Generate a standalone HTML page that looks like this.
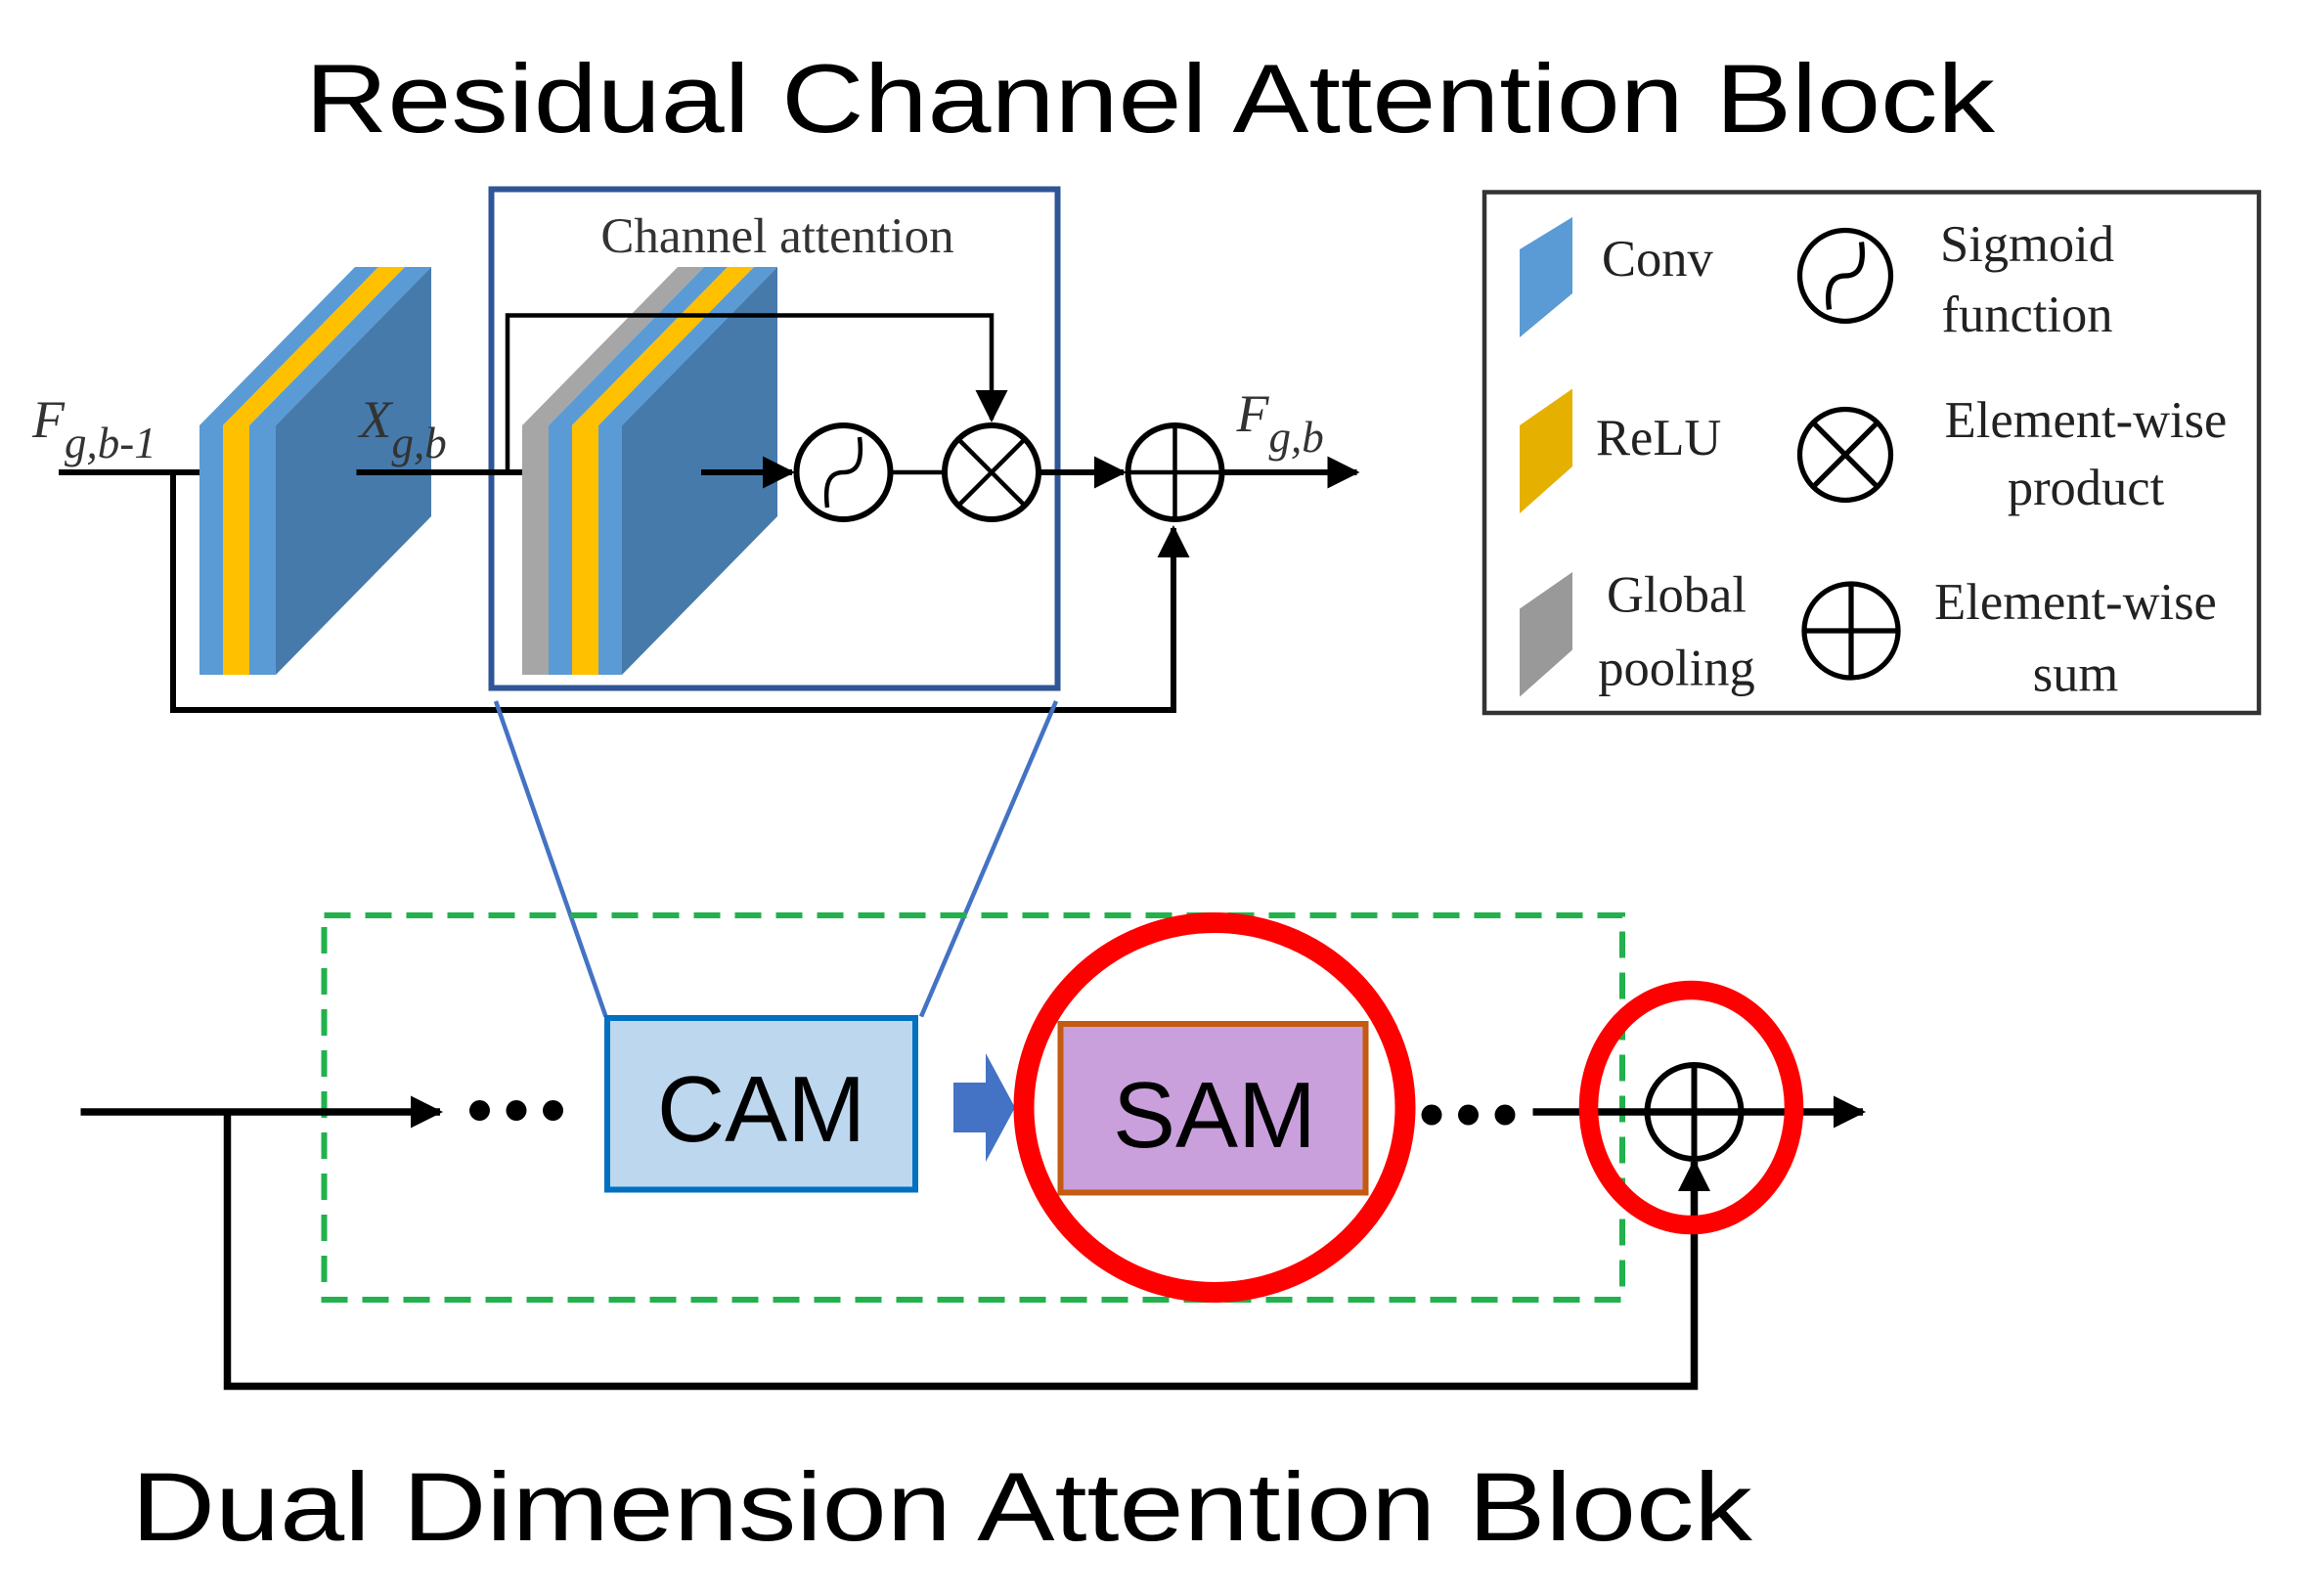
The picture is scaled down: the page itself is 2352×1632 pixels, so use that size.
<!DOCTYPE html>
<html><head><meta charset="utf-8"><style>html,body{margin:0;padding:0;background:#fff}svg{display:block}</style></head>
<body>
<svg width="2352" height="1632" viewBox="0 0 1568 1088" xmlns="http://www.w3.org/2000/svg">
<defs>
<marker id="ab" markerWidth="22" markerHeight="22" refX="20" refY="11" orient="auto" markerUnits="userSpaceOnUse"><path d="M0,0 L22,11 L0,22 z" fill="#000"/></marker>
</defs>
<rect width="1568" height="1088" fill="#fff"/>
<text x="784" y="90" font-family="Liberation Sans, sans-serif" font-size="66" text-anchor="middle" textLength="1152" lengthAdjust="spacingAndGlyphs">Residual Channel Attention Block</text>
<text x="642" y="1050" font-family="Liberation Sans, sans-serif" font-size="66" text-anchor="middle" textLength="1105" lengthAdjust="spacingAndGlyphs">Dual Dimension Attention Block</text>

<g>
<polygon points="136,460 136,290 242,182 258,182 152,290 152,460" fill="#5b9bd5"/>
<polygon points="152,460 152,290 258,182 276,182 170,290 170,460" fill="#ffc000"/>
<polygon points="170,460 170,290 276,182 294,182 188,290 188,460" fill="#5b9bd5"/>
<polygon points="188,460 188,290 294,182 294,352" fill="#467aab"/>
</g>
<g>
<polygon points="356,460 356,290 462,182 480,182 374,290 374,460" fill="#a6a6a6"/>
<polygon points="374,460 374,290 480,182 496,182 390,290 390,460" fill="#5b9bd5"/>
<polygon points="390,460 390,290 496,182 514,182 408,290 408,460" fill="#ffc000"/>
<polygon points="408,460 408,290 514,182 530,182 424,290 424,460" fill="#5b9bd5"/>
<polygon points="424,460 424,290 530,182 530,352" fill="#467aab"/>
</g>

<rect x="335" y="129" width="386" height="340" fill="none" stroke="#2f5597" stroke-width="4"/>
<text x="530" y="172" font-family="Liberation Serif, serif" font-size="34" fill="#333" text-anchor="middle">Channel attention</text>

<g stroke="#000" stroke-width="4" fill="none">
<line x1="40" y1="322" x2="136" y2="322"/>
<polyline points="118,322 118,484 800,484 800,360" marker-end="url(#ab)"/>
<line x1="243" y1="322" x2="356" y2="322"/>
<polyline points="346,322 346,215 676,215 676,286" stroke-width="3" marker-end="url(#ab)"/>
<line x1="478" y1="322" x2="540" y2="322" marker-end="url(#ab)"/>
<line x1="607" y1="322" x2="644" y2="322" stroke-width="3"/>
<line x1="708" y1="322" x2="766" y2="322" marker-end="url(#ab)"/>
<line x1="833" y1="322" x2="925" y2="322" marker-end="url(#ab)"/>
<circle cx="575" cy="322" r="32"/>
<path d="M564,346 C562,330 565,322 575,322 C585,322 588,314 586,298" stroke-width="3"/>
<circle cx="676" cy="322" r="32"/>
<line x1="653" y1="299" x2="699" y2="345" stroke-width="3"/><line x1="699" y1="299" x2="653" y2="345" stroke-width="3"/>
<circle cx="801" cy="322" r="32"/>
<line x1="769" y1="322" x2="833" y2="322" stroke-width="3"/><line x1="801" y1="290" x2="801" y2="354" stroke-width="3"/>
</g>
<g font-family="Liberation Serif, serif" font-style="italic" fill="#333">
<text x="22" y="298" font-size="36">F<tspan font-size="30" dy="14">g,b-1</tspan></text>
<text x="245" y="298" font-size="36">X<tspan font-size="30" dy="14">g,b</tspan></text>
<text x="843" y="294" font-size="36">F<tspan font-size="30" dy="14">g,b</tspan></text>
</g>

<rect x="1012" y="131" width="528" height="355" fill="none" stroke="#333" stroke-width="3"/>
<polygon points="1036,230 1036,170 1072,148 1072,200" fill="#5b9bd5"/>
<polygon points="1036,350 1036,290 1072,265 1072,318" fill="#e6b000"/>
<polygon points="1036,475 1036,415 1072,390 1072,443" fill="#999"/>
<g stroke="#000" stroke-width="3.5" fill="none">
<circle cx="1258" cy="188" r="31"/><path d="M1247,211 C1245,196 1248,188 1258,188 C1268,188 1271,180 1269,165"/>
<circle cx="1258" cy="310" r="31"/><line x1="1236" y1="288" x2="1280" y2="332"/><line x1="1280" y1="288" x2="1236" y2="332"/>
<circle cx="1262" cy="430" r="32"/><line x1="1230" y1="430" x2="1294" y2="430"/><line x1="1262" y1="398" x2="1262" y2="462"/>
</g>
<g font-family="Liberation Serif, serif" font-size="35" fill="#222">
<text x="1092" y="188">Conv</text>
<text x="1088" y="310">ReLU</text>
<text x="1143" y="417" text-anchor="middle">Global</text>
<text x="1143" y="467" text-anchor="middle">pooling</text>
<text x="1382" y="178" text-anchor="middle">Sigmoid</text>
<text x="1382" y="226" text-anchor="middle">function</text>
<text x="1422" y="298" text-anchor="middle">Element-wise</text>
<text x="1422" y="344" text-anchor="middle">product</text>
<text x="1415" y="422" text-anchor="middle">Element-wise</text>
<text x="1415" y="471" text-anchor="middle">sum</text>
</g>

<line x1="338" y1="478" x2="413" y2="693" stroke="#4472c4" stroke-width="3"/>
<line x1="720" y1="478" x2="628" y2="693" stroke="#4472c4" stroke-width="3"/>

<rect x="221" y="624" width="885" height="262" fill="none" stroke="#22b14c" stroke-width="4" stroke-dasharray="18,10"/>

<g stroke="#000" stroke-width="5" fill="none">
<line x1="55" y1="758" x2="300" y2="758" marker-end="url(#ab)"/>
<polyline points="155,758 155,945 1155,945 1155,792" marker-end="url(#ab)"/>
<line x1="1045" y1="758" x2="1270" y2="758" marker-end="url(#ab)"/>
<circle cx="1155" cy="758" r="32" stroke-width="4"/>
<line x1="1155" y1="726" x2="1155" y2="790" stroke-width="4"/>
</g>
<g fill="#000">
<circle cx="327" cy="757" r="7"/><circle cx="352" cy="757" r="7"/><circle cx="377" cy="757" r="7"/>
<circle cx="976" cy="760" r="7"/><circle cx="1001" cy="760" r="7"/><circle cx="1026" cy="760" r="7"/>
</g>

<rect x="414" y="694" width="210" height="117" fill="#bdd7ee" stroke="#0070c0" stroke-width="4"/>
<text x="519" y="778" font-family="Liberation Sans, sans-serif" font-size="64" text-anchor="middle">CAM</text>
<polygon points="650,738 672,738 672,718 692,755 672,792 672,772 650,772" fill="#4472c4"/>
<rect x="723" y="698" width="208" height="115" fill="#c9a0dc" stroke="#c55a11" stroke-width="4"/>
<text x="828" y="782" font-family="Liberation Sans, sans-serif" font-size="64" text-anchor="middle">SAM</text>
<ellipse cx="828" cy="755" rx="130" ry="126" fill="none" stroke="#f00" stroke-width="14"/>
<ellipse cx="1153" cy="755" rx="70" ry="80" fill="none" stroke="#f00" stroke-width="13"/>
</svg>
</body></html>
